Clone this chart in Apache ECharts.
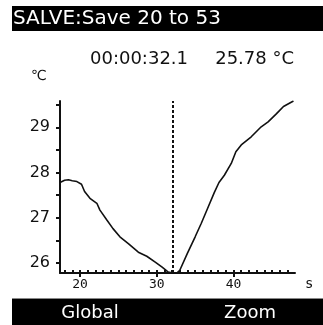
<!DOCTYPE html>
<html>
<head>
<meta charset="utf-8">
<script src="https://cdn.jsdelivr.net/npm/echarts@6/dist/echarts.min.js"></script>
<style>
  html, body { margin: 0; padding: 0; background: #fff; }
  #chart { width: 323px; height: 325px; }
</style>
</head>
<body>
<div id="chart"></div>
<script>
// Logged temperature trace (seconds, °C)
const times = [17.4, 18.0, 18.5, 19.0, 19.6, 20.2, 20.6, 21.3, 22.2, 22.6, 23.5, 24.3, 25.2, 26.3, 27.6, 28.7, 29.8, 30.7, 31.5, 32.1,
               32.6, 33.0, 34.0, 35.0, 35.8, 36.6, 37.5, 38.1, 38.8, 39.7, 40.3, 41.0, 42.3, 43.6, 44.5, 45.6, 46.5, 47.8];
const temps = [27.78, 27.83, 27.84, 27.82, 27.80, 27.74, 27.58, 27.43, 27.32, 27.17, 26.95, 26.76, 26.58, 26.43, 26.24, 26.15, 26.02, 25.91, 25.80, 25.78,
               25.78, 25.84, 26.22, 26.58, 26.88, 27.20, 27.56, 27.78, 27.94, 28.20, 28.46, 28.61, 28.79, 29.01, 29.12, 29.30, 29.46, 29.58];

// Axis ranges and ticks
const xRange = [17.4, 48];
const yRange = [25.78, 29.58];
const xLabels = [20, 30, 40];
const xDots = [18, 19, 20, 21, 22, 23, 24, 25, 26, 27, 28, 29, 30, 31, 32, 33, 34, 35, 36, 37, 38, 39, 40, 41, 42, 43, 44, 45, 46, 47];
const yLabels = [26, 27, 28, 29];
const yTicks = [26, 26.5, 27, 27.5, 28, 28.5, 29, 29.5];

// Cursor readout
const cursorTime = 32.1;
const cursorText = '00:00:32.1';
const cursorTemp = '25.78 °C';
const headerText = 'SALVE:Save 20 to 53';
const softKeys = ['Global', 'Zoom'];

const chart = echarts.init(document.getElementById('chart'), null, { renderer: 'canvas' });

const ink = '#111';
const sansFont = '"DejaVu Sans", sans-serif';

chart.setOption({
  animation: false,
  backgroundColor: '#fff',
  grid: { left: 60, right: 28, top: 101, bottom: 52 },
  xAxis: [
    {
      type: 'value', min: xRange[0], max: xRange[1],
      axisLine: { show: true, lineStyle: { color: ink, width: 2 } },
      axisTick: { show: true, customValues: xLabels, length: 4, inside: false, lineStyle: { color: ink, width: 2 } },
      axisLabel: { customValues: xLabels, color: ink, fontFamily: '"DejaVu Sans Mono", monospace', fontSize: 13, margin: 5 },
      splitLine: { show: false }
    },
    {
      type: 'value', min: xRange[0], max: xRange[1], position: 'bottom',
      axisLine: { show: false },
      axisTick: { show: true, customValues: xDots, length: 3, inside: true, lineStyle: { color: ink, width: 2 } },
      axisLabel: { show: false },
      splitLine: { show: false }
    }
  ],
  yAxis: {
    type: 'value', min: yRange[0], max: yRange[1],
    axisLine: { show: true, lineStyle: { color: ink, width: 2 } },
    axisTick: { show: true, customValues: yTicks, length: 4, inside: false, lineStyle: { color: ink, width: 2 } },
    axisLabel: { customValues: yLabels, color: ink, fontFamily: sansFont, fontSize: 16, margin: 10 },
    splitLine: { show: false }
  },
  series: [{
    type: 'line',
    data: times.map((t, i) => [t, temps[i]]),
    showSymbol: false,
    lineStyle: { color: ink, width: 1.6 },
    markLine: {
      silent: true,
      symbol: 'none',
      label: { show: false },
      lineStyle: { color: ink, width: 2, type: [3, 2] },
      data: [{ xAxis: cursorTime }]
    }
  }],
  graphic: [
    { type: 'rect', shape: { x: 12, y: 6, width: 311, height: 25 }, style: { fill: '#000' } },
    { type: 'text', x: 13, y: 18.5, style: { text: headerText, fill: '#fff', font: '20px ' + sansFont, textVerticalAlign: 'middle' } },
    { type: 'text', x: 90, y: 59, style: { text: cursorText, fill: ink, font: '18px ' + sansFont, textVerticalAlign: 'middle' } },
    { type: 'text', x: 294, y: 59, style: { text: cursorTemp, fill: ink, font: '18px ' + sansFont, textAlign: 'right', textVerticalAlign: 'middle' } },
    { type: 'text', x: 31, y: 76, style: { text: '℃', fill: ink, font: '14px ' + sansFont, textVerticalAlign: 'middle' } },
    { type: 'text', x: 305, y: 284, style: { text: 's', fill: ink, font: '14px "DejaVu Sans Mono", monospace', textVerticalAlign: 'middle' } },
    { type: 'rect', shape: { x: 12, y: 299, width: 311, height: 26 }, style: { fill: '#000' } },
    { type: 'rect', shape: { x: 12, y: 298, width: 311, height: 1 }, style: { fill: '#888' } },
    { type: 'text', x: 90, y: 313, style: { text: softKeys[0], fill: '#fff', font: '18px ' + sansFont, textAlign: 'center', textVerticalAlign: 'middle' } },
    { type: 'text', x: 250, y: 313, style: { text: softKeys[1], fill: '#fff', font: '18px ' + sansFont, textAlign: 'center', textVerticalAlign: 'middle' } }
  ]
});
</script>
</body>
</html>
